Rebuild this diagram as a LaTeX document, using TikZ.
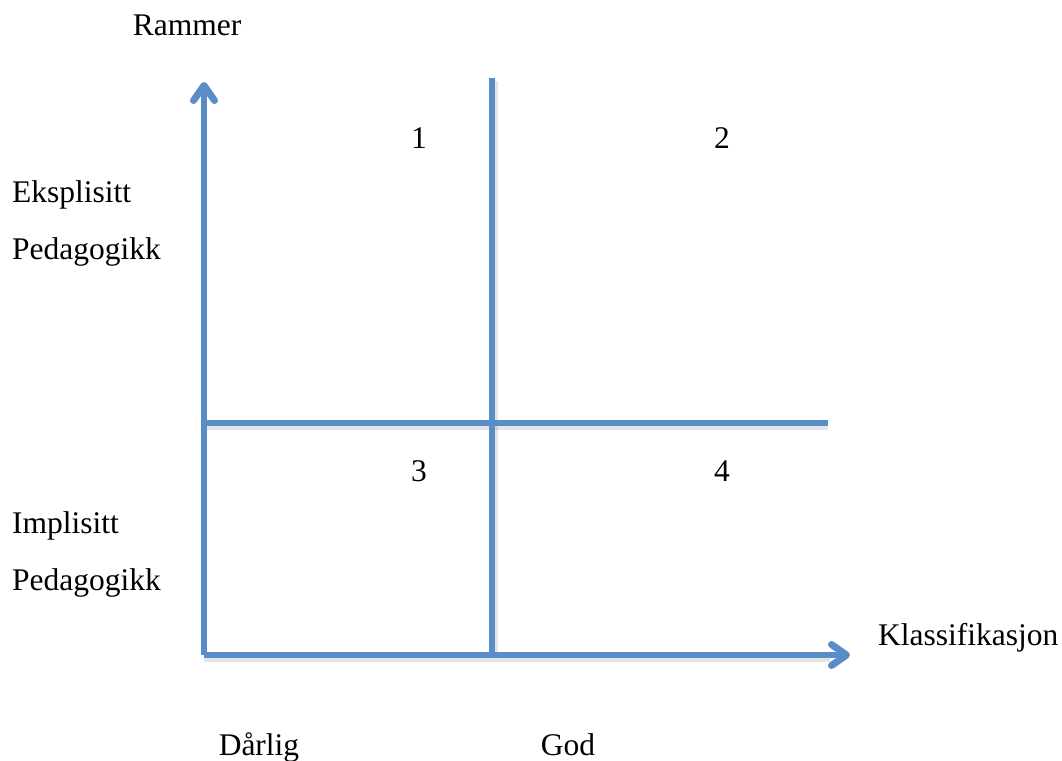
\documentclass[tikz,border=0pt]{standalone}
\usepackage{fontspec}
\setmainfont{Liberation Serif}
\usetikzlibrary{arrows.meta}
\definecolor{axisblue}{RGB}{88,141,200}
\tikzset{
  axisline/.style={draw=axisblue, line width=5.5pt},
  axisarrow/.style={axisline, -{Straight Barb[length=15pt,width=21pt,line width=7pt,round]}},
  shadowline/.style={draw=black, opacity=0.10, line width=6pt},
  lbl/.style={inner sep=0pt, font=\fontsize{31.5}{38}\selectfont},
}
\begin{document}
\begin{tikzpicture}[x=1pt,y=-1pt]
\useasboundingbox (0,0) rectangle (1062,760);
% coordinates
\coordinate (origin) at (204,655);
\coordinate (ytip) at (204,82);
\coordinate (xtip) at (850,655);
\coordinate (vtop) at (492,78);
\coordinate (vbot) at (492,655);
\coordinate (hleft) at (204,423);
\coordinate (hright) at (828,423);
% soft shadows
\draw[shadowline] ([yshift=-4pt]hleft) -- ([yshift=-4pt]hright);
\draw[shadowline] ([yshift=-4pt]origin) -- ([yshift=-4pt,xshift=-20pt]xtip);
\draw[shadowline] ([xshift=3pt,yshift=-3pt]vtop) -- ([xshift=3pt,yshift=-3pt]vbot);
% lines
\draw[axisline] (vtop) -- (vbot);
\draw[axisline] (hleft) -- (hright);
\draw[axisarrow] (origin) -- (ytip);
\draw[axisarrow] (origin) -- (xtip);
% labels
\node[lbl, anchor=base] (rammer) at (187,36) {Rammer};
\node[lbl, anchor=base west] (eks) at (12,202) {Eksplisitt};
\node[lbl, anchor=base west] (ped1) at (12,259) {Pedagogikk};
\node[lbl, anchor=base west] (imp) at (12,533) {Implisitt};
\node[lbl, anchor=base west] (ped2) at (12,590) {Pedagogikk};
\node[lbl, anchor=base west] (klass) at (878,645) {Klassifikasjon};
\node[lbl, anchor=base] (darlig) at (259,755) {Dårlig};
\node[lbl, anchor=base] (god) at (568,755) {God};
\node[lbl, anchor=base] (q1) at (419,148) {1};
\node[lbl, anchor=base] (q2) at (722,148) {2};
\node[lbl, anchor=base] (q3) at (419,481) {3};
\node[lbl, anchor=base] (q4) at (722,481) {4};
\end{tikzpicture}
\end{document}
